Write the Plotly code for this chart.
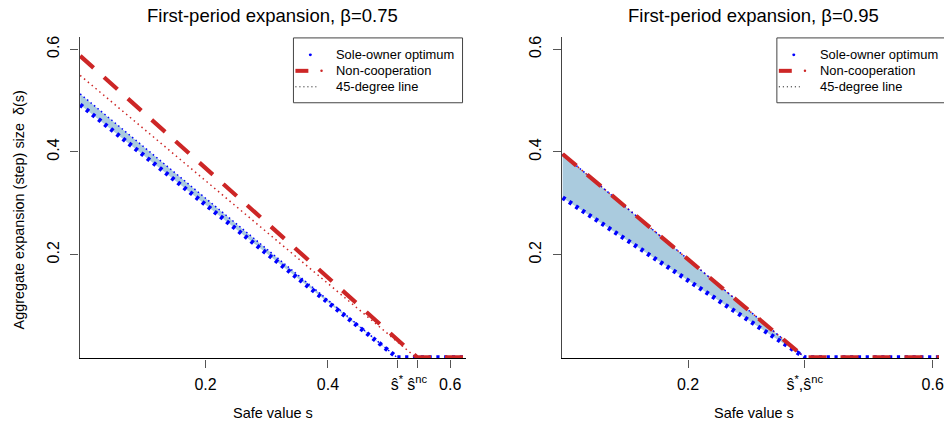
import plotly.graph_objects as go

# ---------------- data ----------------
# Left panel: beta = 0.75
sL = [-0.005, 0.513, 0.63]
opt_L = [0.492, 0.0, 0.0]            # sole-owner optimum
sL_nc = [-0.005, 0.546, 0.63]
nc_L = [0.587, 0.0, 0.0]             # non-cooperation
sL_45 = [-0.005, 0.544]
d45_L = [0.549, 0.0]                 # 45-degree line
sL_band = [-0.005, 0.513]
band_lo_L = [0.492, 0.0]
band_hi_L = [0.513, 0.0]
s_hat_star_L = 0.513
s_hat_nc_L = 0.546

# Right panel: beta = 0.95
sR = [-0.005, 0.391, 0.63]
opt_R = [0.311, 0.0, 0.0]
nc_R = [0.396, 0.0, 0.0]
sR_45 = [-0.005, 0.391]
d45_R = [0.396, 0.0]
sR_band = [-0.005, 0.391]
band_lo_R = [0.311, 0.0]
band_hi_R = [0.396, 0.0]
s_hat_R = 0.391

x_ticks_L = [0.2, 0.4, 0.6]
x_ticks_R = [0.2, 0.6]
y_ticks = [0.2, 0.4, 0.6]
legend_labels = ["Sole-owner optimum", "Non-cooperation", "45-degree line"]
titles = ["First-period expansion, \u03b2=0.75", "First-period expansion, \u03b2=0.95"]

# ---------------- style ----------------
W, H = 944, 428
FONT = "Liberation Sans, Arial, sans-serif"
BLUE = "#0000FF"
RED = "#CD2626"
SHADE = "#AACBDE"

def px(x):
    return x / W

def py(y):
    return 1 - y / H

fig = go.Figure()

def add_panel(xa, ya, s_band, lo, hi, s45, d45, s_opt, opt, s_nc, nc):
    fig.add_trace(go.Scatter(
        x=list(s_band) + list(s_band)[::-1], y=list(lo) + list(hi)[::-1],
        fill="toself", fillcolor=SHADE, line=dict(width=0), mode="lines",
        xaxis=xa, yaxis=ya, showlegend=False, hoverinfo="skip"))
    fig.add_trace(go.Scatter(x=s45, y=d45, mode="lines",
        line=dict(color=RED, width=1.5, dash="1.5px,3.5px"),
        xaxis=xa, yaxis=ya, showlegend=False))
    fig.add_trace(go.Scatter(x=s_band, y=hi, mode="lines",
        line=dict(color=BLUE, width=1.5, dash="1.5px,3px"),
        xaxis=xa, yaxis=ya, showlegend=False))
    fig.add_trace(go.Scatter(x=s_opt, y=opt, mode="lines",
        line=dict(color=BLUE, width=4.5, dash="3.2px,4.6px"),
        xaxis=xa, yaxis=ya, showlegend=False))
    fig.add_trace(go.Scatter(x=s_nc, y=nc, mode="lines",
        line=dict(color=RED, width=4.2, dash="18px,14px"),
        xaxis=xa, yaxis=ya, showlegend=False))

add_panel("x", "y", sL_band, band_lo_L, band_hi_L, sL_45, d45_L, sL, opt_L, sL_nc, nc_L)
add_panel("x2", "y2", sR_band, band_lo_R, band_hi_R, sR_45, d45_R, sR, opt_R, sR, nc_R)

XR = [-0.006, 0.625]
YR = [-0.002, 0.624]
ydom = [py(358.3), py(36)]

TICKFONT = dict(family=FONT, size=16, color="black")
axis_common = dict(showgrid=False, zeroline=False, showline=True, ticks="outside",
                   ticklen=8, tickcolor="#555", tickfont=TICKFONT, ticklabeloverflow="allow")

fig.update_layout(
    width=W, height=H, margin=dict(l=0, r=0, t=0, b=0),
    paper_bgcolor="white", plot_bgcolor="white", showlegend=False,
    font=dict(family=FONT, color="black"),
    xaxis=dict(domain=[px(80), px(468)], range=XR, anchor="y",
               tickvals=x_ticks_L + [s_hat_star_L, s_hat_nc_L],
               ticktext=[str(v) for v in x_ticks_L] + ["\u015d<sup>*</sup>", "\u015d<sup>nc</sup>"],
               linecolor="black", linewidth=1.3, ticklabelstandoff=3, **axis_common),
    yaxis=dict(domain=ydom, range=YR, anchor="x", tickvals=y_ticks,
               ticktext=[str(v) for v in y_ticks], tickangle=-90, ticklabelstandoff=5,
               linecolor="#444", linewidth=1.3, **axis_common),
    xaxis2=dict(domain=[px(565), 1.0], range=[XR[0], XR[0] + (XR[1] - XR[0]) * 379 / 388],
                anchor="y2",
                tickvals=x_ticks_R + [s_hat_R],
                ticktext=[str(v) for v in x_ticks_R] + ["\u015d<sup>*</sup>,\u015d<sup>nc</sup>"],
                linecolor="black", linewidth=1.3, ticklabelstandoff=3, **axis_common),
    yaxis2=dict(domain=ydom, range=YR, anchor="x2", tickvals=y_ticks,
                ticktext=[str(v) for v in y_ticks], tickangle=-90, ticklabelstandoff=5,
                linecolor="#444", linewidth=1.3, **axis_common),
)

ann = []
shapes = []
for cx, t in zip([274, 758], titles):
    ann.append(dict(x=px(cx), y=py(15), xref="paper", yref="paper", text=t, showarrow=False,
                    font=dict(family=FONT, size=18.5), xanchor="center", yanchor="middle"))
for cx in [274, 758]:
    ann.append(dict(x=px(cx), y=py(413), xref="paper", yref="paper", text="Safe value s",
                    showarrow=False, font=dict(family=FONT, size=14.5), xanchor="center", yanchor="middle"))
ann.append(dict(x=px(19), y=py(209), xref="paper", yref="paper",
                text="Aggregate expansion (step) size  \u03b4(s)", textangle=-90, showarrow=False,
                font=dict(family=FONT, size=14.4), xanchor="center", yanchor="middle"))

LEGFONT = 12.9
for bx in [295, 781]:
    shapes.append(dict(type="rect", xref="paper", yref="paper", x0=px(bx), x1=px(bx + 170),
                       y0=py(102), y1=py(37), line=dict(color="#444", width=1), fillcolor="white"))
    rows = [54, 70, 86]
    shapes.append(dict(type="circle", xref="paper", yref="paper", x0=px(bx + 15.5), x1=px(bx + 18.5),
                       y0=py(rows[0] + 1.5), y1=py(rows[0] - 1.5), fillcolor=BLUE, line=dict(width=0)))
    shapes.append(dict(type="line", xref="paper", yref="paper", x0=px(bx + 2), x1=px(bx + 15),
                       y0=py(rows[1]), y1=py(rows[1]), line=dict(color=RED, width=4)))
    shapes.append(dict(type="circle", xref="paper", yref="paper", x0=px(bx + 27), x1=px(bx + 29.5),
                       y0=py(rows[1] + 1.25), y1=py(rows[1] - 1.25), fillcolor=RED, line=dict(width=0)))
    shapes.append(dict(type="line", xref="paper", yref="paper", x0=px(bx + 2), x1=px(bx + 23),
                       y0=py(rows[2]), y1=py(rows[2]), line=dict(color="black", width=1, dash="1px,3px")))
    for r, lab in zip(rows, legend_labels):
        ann.append(dict(x=px(bx + 41), y=py(r), xref="paper", yref="paper", text=lab, showarrow=False,
                        font=dict(family=FONT, size=LEGFONT), xanchor="left", yanchor="middle"))

fig.update_layout(annotations=ann, shapes=shapes)
fig.write_html("out.html", config={"displayModeBar": False},
               post_script="document.body.style.margin='0';document.body.style.overflow='hidden';")
